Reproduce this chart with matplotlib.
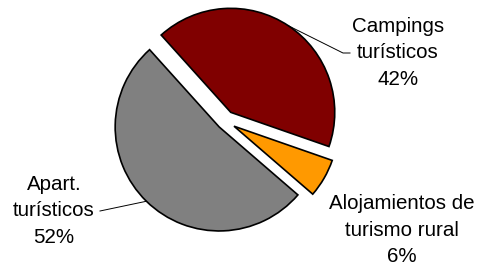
import numpy as np
import matplotlib
matplotlib.use('Agg')
import matplotlib.pyplot as plt

# data
labels = ['Campings\nturísticos\n42%', 'Alojamientos de\nturismo rural\n6%', 'Apart.\nturísticos\n52%']
shares = [42, 6, 52]
colors = ['#800000', '#FF9900', '#808080']
explode = [0.1, 0.1, 0.08]

# layout in pixels -> data units (pie radius = 1)
W, H = 481, 265
R_PX = 104
CX, CY = 225, 121

def px(x, y):
    return (x - CX) / R_PX, (CY - y) / R_PX

plt.rcParams['font.family'] = ['Liberation Sans', 'DejaVu Sans']

fig = plt.figure(figsize=(W / 100, H / 100), dpi=100)
ax = fig.add_axes([0, 0, 1, 1])

wedges, _ = ax.pie(shares, colors=colors, explode=explode, startangle=132,
                   counterclock=False, radius=1,
                   wedgeprops=dict(edgecolor='black', linewidth=1.2))

ax.set_xlim(-CX / R_PX, (W - CX) / R_PX)
ax.set_ylim(-(H - CY) / R_PX, CY / R_PX)
ax.set_aspect('equal')
ax.axis('off')

# label positions (pixel centres)
label_pos = [(398, 53), (402, 230), (54, 211)]
for lab, (lx, ly) in zip(labels, label_pos):
    x, y = px(lx, ly)
    ax.text(x, y, lab, ha='center', va='center', fontsize=14.8, linespacing=1.5)

def edge_point(w):
    mid = np.deg2rad((w.theta1 + w.theta2) / 2)
    cx, cy = w.center
    return cx + w.r * np.cos(mid), cy + w.r * np.sin(mid)

# leader lines
ex, ey = edge_point(wedges[0])
x1, y1 = px(343, 53)
x2, y2 = px(350, 53)
ax.plot([ex, x1, x2], [ey, y1, y2], color='black', lw=0.7)

ex, ey = edge_point(wedges[2])
x1, y1 = px(100, 211)
ax.plot([ex, x1], [ey, y1], color='black', lw=0.7)

fig.savefig('out.png', dpi=100)
